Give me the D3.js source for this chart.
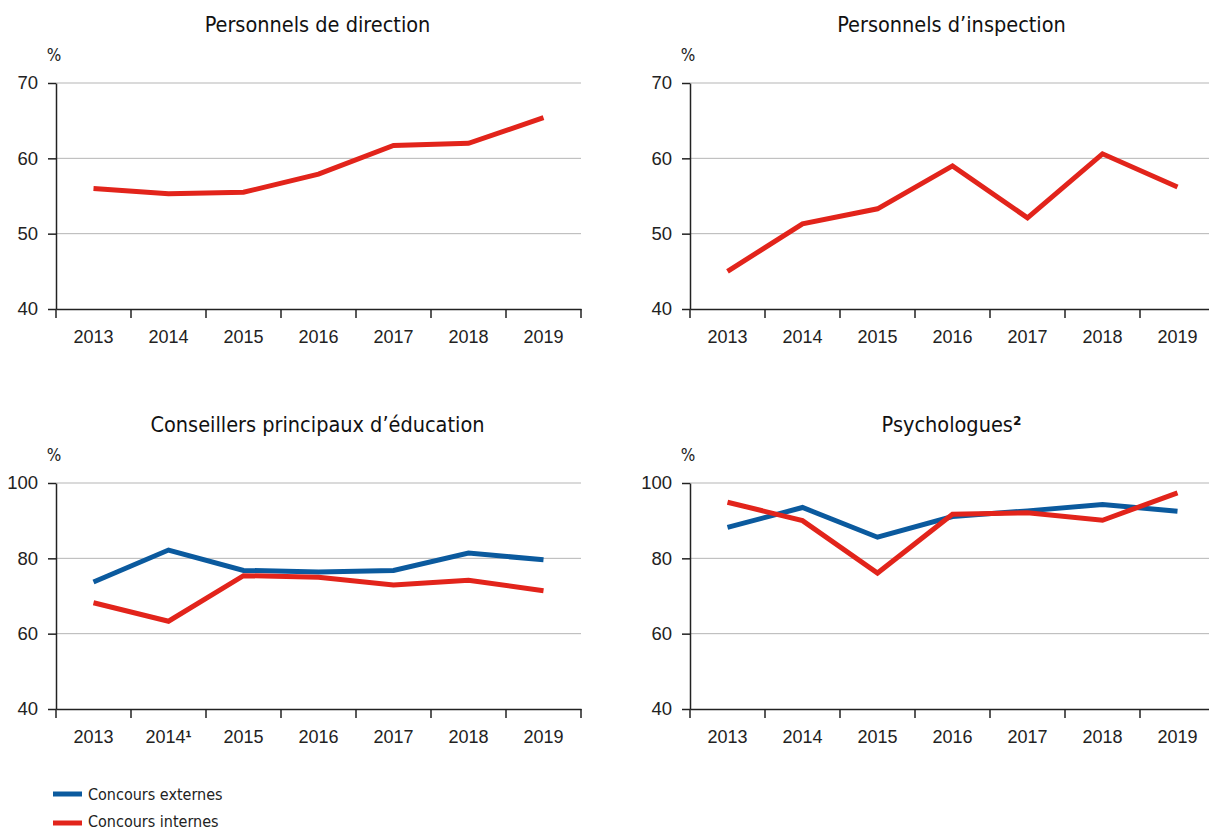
<!DOCTYPE html>
<meta charset="utf-8">
<style>
body { margin: 0; background: #fff; }
svg { font-family: "DejaVu Sans Condensed", "Liberation Sans Narrow", sans-serif; font-stretch: condensed; }
.grid line { stroke: #b5b5b5; stroke-width: 1px; }
.axis path, .axis line { stroke: #222; stroke-width: 1.5px; }
.axis text { fill: #222; }
.line { fill: none; stroke-width: 5px; stroke-linejoin: miter; }
.sup { font-weight: bold; }
</style>
<svg width="1209" height="830"></svg>
<script src="https://cdn.jsdelivr.net/npm/d3@7"></script>
<script>
// values (%)
var years = ["2013", "2014", "2015", "2016", "2017", "2018", "2019"];

var directionInternes = [56.0, 55.3, 55.5, 57.9, 61.7, 62.0, 65.4];
var inspectionInternes = [45.0, 51.3, 53.3, 59.0, 52.1, 60.6, 56.2];
var cpeExternes = [73.7, 82.2, 76.8, 76.4, 76.8, 81.4, 79.6];
var cpeInternes = [68.2, 63.3, 75.4, 75.0, 72.9, 74.2, 71.4];
var psyExternes = [88.2, 93.5, 85.6, 91.1, 92.6, 94.3, 92.5];
var psyInternes = [94.9, 90.0, 76.1, 91.7, 92.1, 90.1, 97.4];

var ticksTop = [40, 50, 60, 70];
var ticksBottom = [40, 60, 80, 100];

var blue = "#0b5a9e", red = "#e2241b";

var svg = d3.select("svg");

var panels = [
  {title: "Personnels de direction", left: 56, top: 83, domain: [40, 70], ticks: ticksTop,
   series: [{values: directionInternes, color: red}]},
  {title: "Personnels d\u2019inspection", left: 690, top: 83, domain: [40, 70], ticks: ticksTop,
   series: [{values: inspectionInternes, color: red}]},
  {title: "Conseillers principaux d\u2019\u00e9ducation", left: 56, top: 483, domain: [40, 100], ticks: ticksBottom,
   series: [{values: cpeExternes, color: blue}, {values: cpeInternes, color: red}], note2014: true},
  {title: "Psychologues", sup: "\u00b2", left: 690, top: 483, domain: [40, 100], ticks: ticksBottom,
   series: [{values: psyExternes, color: blue}, {values: psyInternes, color: red}]}
];

var width = 525, height = 226;

panels.forEach(function(p) {
  var g = svg.append("g").attr("transform", "translate(" + p.left + "," + p.top + ")");

  var x = d3.scaleBand().domain(years).range([0, width]);
  var y = d3.scaleLinear().domain(p.domain).range([height, 0]);

  // gridlines
  g.append("g").attr("class", "grid")
    .selectAll("line")
    .data(p.ticks.filter(function(t) { return t > p.domain[0]; }))
    .enter().append("line")
      .attr("x1", 0).attr("x2", width)
      .attr("y1", function(d) { return y(d); })
      .attr("y2", function(d) { return y(d); });

  // y axis
  var ya = g.append("g").attr("class", "axis")
    .call(d3.axisLeft(y).tickValues(p.ticks).tickSize(8).tickPadding(10).tickSizeOuter(0));
  ya.selectAll("text").style("font-size", "18.5px");

  // x axis: labels centred, tick marks at band boundaries
  var xa = g.append("g").attr("class", "axis")
    .attr("transform", "translate(0," + height + ")")
    .call(d3.axisBottom(x).tickSize(0).tickPadding(21).tickSizeOuter(0));
  xa.selectAll("text").style("font-size", "18px").attr("dy", "0.71em");
  xa.selectAll(".bound")
    .data(years.map(function(d) { return x(d); }).concat([width]))
    .enter().append("line")
      .attr("class", "bound")
      .attr("x1", function(d) { return d; }).attr("x2", function(d) { return d; })
      .attr("y1", 0).attr("y2", 9);

  if (p.note2014) {
    var t14 = xa.selectAll(".tick text")
      .filter(function(d) { return d === "2014"; })
      .text("2014");
    t14.append("tspan").attr("class", "sup").text("\u00b9");
  }

  // "%" unit
  g.append("text")
    .attr("x", -2).attr("y", -22)
    .attr("text-anchor", "middle")
    .style("font-size", "17px").attr("fill", "#222")
    .text("%");

  // title
  var title = g.append("text")
    .attr("x", width / 2 - 1).attr("y", -51)
    .attr("text-anchor", "middle")
    .style("font-size", "21.5px").attr("fill", "#111")
    .text(p.title);
  if (p.sup) title.append("tspan").attr("class", "sup").text(p.sup);

  var line = d3.line()
    .x(function(d, i) { return x(years[i]) + x.bandwidth() / 2; })
    .y(function(d) { return y(d); });

  p.series.forEach(function(s) {
    g.append("path")
      .attr("class", "line")
      .attr("d", line(s.values))
      .style("stroke", s.color);
  });
});

// legend
var legendItems = [{label: "Concours externes", color: blue}, {label: "Concours internes", color: red}];
var lg = svg.append("g").attr("transform", "translate(53,794)");
legendItems.forEach(function(d, i) {
  var row = lg.append("g").attr("transform", "translate(0," + (i * 29) + ")");
  row.append("line").attr("x1", 0).attr("x2", 29).attr("y1", 0).attr("y2", 0)
    .style("stroke", d.color).style("stroke-width", 5);
  row.append("text").attr("x", 35).attr("y", i === 0 ? 6 : 4)
    .style("font-size", "16px").attr("fill", "#222")
    .text(d.label);
});
</script>
